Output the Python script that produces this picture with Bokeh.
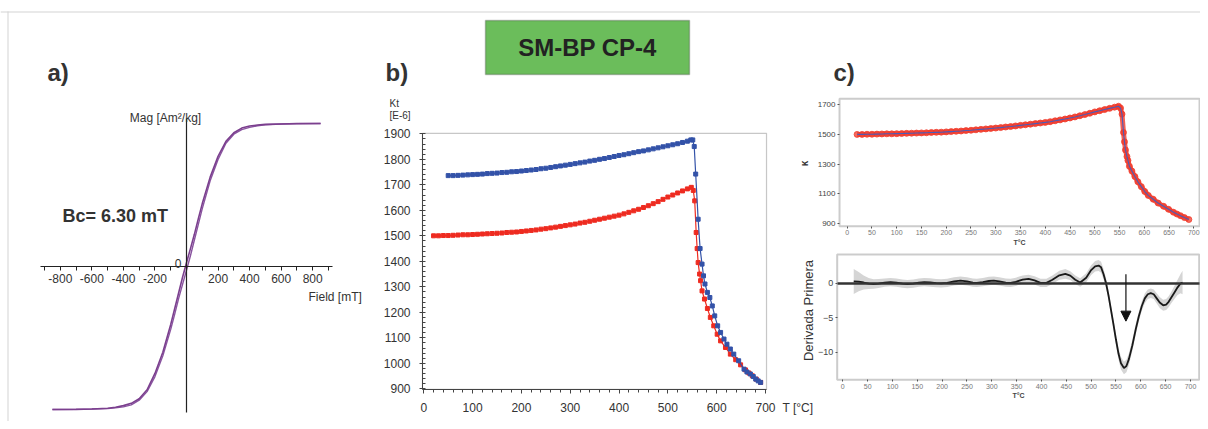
import math
from bokeh.plotting import figure
from bokeh.models import (Range1d, FixedTicker, SingleIntervalTicker, LinearAxis, Label,
                          BoxAnnotation, Arrow, NormalHead, PrintfTickFormatter)
from bokeh.embed import file_html
from bokeh.resources import INLINE

FONT = "Liberation Sans"

# ---------------- data ----------------
# panel a) hysteresis loop (normalised magnetisation)
field_mT = [-850, -700, -600, -500, -450, -400, -350, -300, -250, -200, -150, -100, -75, -50, -25, 0,
            25, 50, 75, 100, 150, 200, 250, 300, 350, 400, 450, 500, 600, 700, 850]
mag_desc = [-1.0, -0.999, -0.997, -0.991, -0.984, -0.973, -0.957, -0.925, -0.862, -0.748, -0.600, -0.405,
            -0.295, -0.185, -0.075, 0.026, 0.125, 0.225, 0.335, 0.440, 0.625, 0.770, 0.875, 0.935,
            0.968, 0.982, 0.989, 0.994, 0.997, 0.999, 1.0]
mag_asc = [-1.0, -0.999, -0.997, -0.994, -0.989, -0.982, -0.968, -0.935, -0.875, -0.770, -0.625, -0.440,
           -0.335, -0.225, -0.125, -0.026, 0.075, 0.185, 0.295, 0.405, 0.600, 0.748, 0.862, 0.925,
           0.957, 0.973, 0.984, 0.991, 0.997, 0.999, 1.0]
a_major_ticks = [-800, -600, -400, -200, 200, 400, 600, 800]
a_minor_ticks = [-900, -700, -500, -300, -100, 0, 100, 300, 500, 700, 900]

# panel b) susceptibility vs temperature
t_heat = [20, 30, 40, 50, 60, 70, 80, 90, 100, 110, 120, 130, 140, 150, 160, 170, 180, 190, 200, 210,
          220, 230, 240, 250, 260, 270, 280, 290, 300, 310, 320, 330, 340, 350, 360, 370, 380, 390,
          400, 410, 420, 430, 440, 450, 460, 470, 480, 490, 500, 510, 520, 530, 540,
          548, 552, 555, 558, 560, 562, 565, 567, 570, 575,
          581, 587, 594, 601, 608, 618, 628, 639, 649, 659, 666, 673, 681, 690]
k_heat = [1500, 1500, 1501, 1501, 1502, 1503, 1504, 1504, 1505, 1506,
          1507, 1508, 1509, 1510, 1511, 1513, 1514, 1515, 1517, 1519,
          1521, 1523, 1526, 1528, 1531, 1534, 1537, 1540, 1543, 1546,
          1550, 1553, 1557, 1561, 1565, 1569, 1573, 1577, 1581, 1586,
          1592, 1598, 1604, 1611, 1618, 1626, 1634, 1643, 1652, 1660,
          1668, 1676, 1684,
          1690, 1678, 1637, 1513, 1450, 1395, 1350, 1324, 1284, 1252,
          1215, 1180, 1147, 1114, 1088, 1062, 1036, 1014, 994, 974, 962, 951, 938, 925]
t_cool = [50, 60, 70, 80, 90, 100, 110, 120, 130, 140, 150, 160, 170, 180, 190, 200, 210, 220, 230, 240,
          250, 260, 270, 280, 290, 300, 310, 320, 330, 340, 350, 360, 370, 380, 390, 400, 410, 420,
          430, 440, 450, 460, 470, 480, 490, 500, 510, 520, 530, 540,
          547, 551, 554, 557, 562, 566, 570, 573, 576, 581, 586, 591, 596, 602, 608, 615, 621, 628,
          635, 645, 656, 662, 669, 675, 680, 685, 690]
k_cool = [1736, 1736, 1737, 1738, 1739, 1740, 1741, 1742, 1744, 1745,
          1746, 1748, 1749, 1751, 1752, 1754, 1756, 1758, 1760, 1763,
          1765, 1768, 1771, 1774, 1777, 1780, 1783, 1786, 1789, 1793,
          1796, 1800, 1803, 1807, 1811, 1815, 1818, 1822, 1826, 1830,
          1833, 1837, 1841, 1845, 1849, 1853, 1857, 1861, 1866, 1871,
          1876, 1876, 1850, 1742, 1565, 1450, 1389, 1343, 1311, 1278, 1258, 1225, 1186, 1147,
          1121, 1095, 1075, 1056, 1036, 1010, 977, 966, 958, 948, 938, 931, 925]

# panel c) kappa and first derivative
c_x_ticks = [0, 50, 100, 150, 200, 250, 300, 350, 400, 450, 500, 550, 600, 650, 700]
c1_y_ticks = [900, 1100, 1300, 1500, 1700]
c2_y_ticks = [-10, -5, 0]
t_deriv = [22, 32, 42, 52, 62, 72, 84, 96, 108, 120, 130, 142, 153, 164, 176, 188, 198, 210, 224, 237,
           250, 262, 270, 282, 294, 304, 315, 328, 338, 348, 362, 374, 386, 398, 410, 422, 436, 448,
           458, 468, 478, 490, 500, 508, 515, 520, 525, 530, 535, 540, 545, 550, 555, 560, 566, 571,
           576, 583, 590, 596, 602, 608, 614, 620, 626, 632, 638, 645, 651, 656, 662, 668, 674, 680, 684]
d_deriv = [0.25, 0.22, 0.10, -0.05, -0.12, -0.05, 0.08, 0.15, 0.08, -0.05,
           -0.12, -0.05, 0.08, 0.15, 0.10, 0.0, -0.02, 0.05, 0.25, 0.38,
           0.25, 0.08, 0.04, 0.15, 0.32, 0.38, 0.25, 0.08, 0.05, 0.20,
           0.52, 0.63, 0.40, 0.05, 0.05, 0.50, 1.15, 1.35, 1.10, 0.50,
           0.10, 0.80, 1.90, 2.45, 2.56, 2.30, 1.30, 0.0, -1.8, -3.9,
           -6.0, -8.2, -10.2, -11.6, -12.3, -12.0, -11.0, -9.0, -6.6, -4.8,
           -3.3, -2.2, -1.6, -1.45, -1.6, -2.2, -2.8, -3.2, -3.1, -2.7,
           -2.0, -1.3, -0.6, -0.05, 0.1]
w_deriv = [1.8, 1.4, 1.0, 0.8, 0.7, 0.65, 0.6, 0.6, 0.6, 0.6,
           0.6, 0.6, 0.6, 0.6, 0.6, 0.6, 0.6, 0.6, 0.6, 0.6,
           0.6, 0.6, 0.6, 0.6, 0.6, 0.6, 0.6, 0.6, 0.6, 0.6,
           0.6, 0.6, 0.6, 0.6, 0.6, 0.6, 0.65, 0.7, 0.65, 0.6,
           0.6, 0.65, 0.7, 0.75, 0.8, 0.8, 0.75, 0.7, 0.7, 0.7,
           0.75, 0.8, 0.85, 0.9, 0.9, 0.9, 0.85, 0.8, 0.75, 0.7,
           0.7, 0.7, 0.7, 0.7, 0.7, 0.75, 0.8, 0.8, 0.8, 0.8,
           0.85, 0.95, 1.1, 1.4, 1.7]
arrow_T = 570
arrow_top, arrow_tip = 1.3, -5.5

d_low = [d - w for d, w in zip(d_deriv, w_deriv)]
d_high = [d + w for d, w in zip(d_deriv, w_deriv)]

# ---------------- canvas ----------------
W, H = 1200, 421
p = figure(width=W, height=H, x_range=Range1d(0, W), y_range=Range1d(H, 0),
           x_axis_type=None, y_axis_type=None, toolbar_location=None, output_backend="svg",
           min_border=0, outline_line_color=None, background_fill_color="white",
           border_fill_color="white")


def x_range_for(v0, p0, v1, p1):
    k = (v1 - v0) / (p1 - p0)
    return Range1d(start=v0 - p0 * k, end=v0 + (W - p0) * k)


def y_range_for(v0, p0, v1, p1):
    k = (v1 - v0) / (p1 - p0)
    return Range1d(start=v0 + (H - p0) * k, end=v0 - p0 * k)


# panel placements (pixel positions of reference values)
p.extra_x_ranges = {
    "ax": x_range_for(0, 186.0, 800, 312.2),
    "bx": x_range_for(0, 423.3, 700, 765.0),
    "c1x": x_range_for(0, 846.7, 700, 1193.3),
    "c2x": x_range_for(0, 842.3, 700, 1190.0),
}
p.extra_y_ranges = {
    "ay": y_range_for(0, 266.0, 1, 123.0),
    "by": y_range_for(1900, 133.3, 900, 388.3),
    "c1y": y_range_for(1700, 104.3, 900, 222.7),
    "c2y": y_range_for(0, 282.7, -10, 351.7),
}
A_XB, A_YB = (-925, 925), (-1.021, 1.035)
B_XB, B_YB = (-2.7, 702.1), (898, 1902)
C1_XB, C1_YB = (-15.5, 711.6), (880, 1741)
C2_XB, C2_YB = (-11.3, 717.5), (-14.0, 4.16)


def txt(x, y, text, size, align="left", baseline="middle", bold=False, color="#333333", angle=0.0):
    p.add_layout(Label(x=x, y=y, text=text, text_font=FONT, text_font_size=size,
                       text_font_style="bold" if bold else "normal", text_color=color,
                       text_align=align, text_baseline=baseline, angle=angle))


# ---------------- page decorations ----------------
p.add_layout(BoxAnnotation(left=0, right=W, top=11, bottom=12, fill_color="#d4d4d4", fill_alpha=1,
                           line_color=None))
p.add_layout(BoxAnnotation(left=7, right=8, top=11, bottom=H, fill_color="#d4d4d4", fill_alpha=1,
                           line_color=None))
p.add_layout(BoxAnnotation(left=485, right=689, top=20, bottom=74, fill_color="#6bbd5b",
                           fill_alpha=1.0, line_color="#3c3c3c", line_width=1.5))
txt(587, 47, "SM-BP CP-4", "24px", align="center", bold=True, color="#222222")
txt(47, 72, "a)", "24px", bold=True)
txt(385, 72, "b)", "24px", bold=True)
txt(833, 72, "c)", "24px", bold=True)

# ---------------- panel a ----------------
xa = LinearAxis(x_range_name="ax", y_range_name="ay", fixed_location=0, bounds=A_XB,
                ticker=FixedTicker(ticks=a_major_ticks, minor_ticks=a_minor_ticks),
                formatter=PrintfTickFormatter(format="%d"),
                axis_line_color="#222222", axis_line_width=1.2,
                major_tick_line_color="#222222", minor_tick_line_color="#222222",
                major_tick_out=4, major_tick_in=0, minor_tick_out=4, minor_tick_in=0,
                major_label_standoff=3, major_label_text_font=FONT,
                major_label_text_font_size="12px", major_label_text_color="#333333")
p.add_layout(xa, "below")
ya = LinearAxis(x_range_name="ax", y_range_name="ay", fixed_location=0, bounds=A_YB,
                ticker=FixedTicker(ticks=[]), axis_line_color="#222222", axis_line_width=1.2,
                major_tick_line_color=None, minor_tick_line_color=None,
                major_label_text_font_size="0px")
p.add_layout(ya, "left")
p.line(field_mT, mag_asc, line_color="#8a55a0", line_width=1.4, x_range_name="ax", y_range_name="ay")
p.line(field_mT, mag_desc, line_color="#7b3f8e", line_width=1.6, x_range_name="ax", y_range_name="ay")
txt(165, 117, "Mag [Am²/kg]", "12px", align="center")
txt(308, 296, "Field [mT]", "12px")
txt(181, 263, "0", "12px", align="right", baseline="alphabetic")
txt(62, 215, "Bc= 6.30 mT", "18px", bold=True)

# ---------------- panel b ----------------
p.add_layout(BoxAnnotation(left=B_XB[0], right=B_XB[1], bottom=B_YB[0], top=B_YB[1],
                           x_range_name="bx", y_range_name="by", fill_color=None,
                           line_color="#444444", line_width=1.2))
bxa = LinearAxis(x_range_name="bx", y_range_name="by", fixed_location=B_YB[0], bounds=B_XB,
                 ticker=SingleIntervalTicker(interval=100, num_minor_ticks=5),
                 major_tick_out=4, major_tick_in=0, minor_tick_out=3, minor_tick_in=0,
                 major_label_standoff=10)
bya = LinearAxis(x_range_name="bx", y_range_name="by", fixed_location=B_XB[0], bounds=B_YB,
                 ticker=SingleIntervalTicker(interval=100, num_minor_ticks=5),
                 major_tick_out=3, major_tick_in=2, minor_tick_out=0, minor_tick_in=3,
                 major_label_standoff=9)
for ax in (bxa, bya):
    ax.axis_line_color = "#444444"
    ax.major_tick_line_color = "#444444"
    ax.minor_tick_line_color = "#444444"
    ax.major_label_text_font = FONT
    ax.major_label_text_font_size = "12px"
    ax.major_label_text_color = "#333333"
p.add_layout(bxa, "below")
p.add_layout(bya, "left")
p.line(t_heat, k_heat, line_color="#ee2b20", line_width=1.2, x_range_name="bx", y_range_name="by")
p.scatter(t_heat, k_heat, marker="square", size=4, fill_color="#ee2b20", line_color="#ee2b20",
          x_range_name="bx", y_range_name="by")
p.line(t_cool, k_cool, line_color="#3352a8", line_width=1.2, x_range_name="bx", y_range_name="by")
p.scatter(t_cool, k_cool, marker="square", size=4, fill_color="#3352a8", line_color="#3352a8",
          x_range_name="bx", y_range_name="by")
txt(389, 103, "Kt", "10px")
txt(389, 115, "[E-6]", "10px")
txt(782, 407, "T [°C]", "12px")


# ---------------- panel c ----------------
def c_axes(xr, yr, xb, yb, yticks, ylab_size):
    p.add_layout(BoxAnnotation(left=xb[0], right=xb[1], bottom=yb[0], top=yb[1],
                               x_range_name=xr, y_range_name=yr, fill_color=None,
                               line_color="#555555", line_width=2))
    xax = LinearAxis(x_range_name=xr, y_range_name=yr, fixed_location=yb[0], bounds=xb,
                     ticker=FixedTicker(ticks=c_x_ticks), axis_label="T°C",
                     axis_label_text_font=FONT, axis_label_text_font_size="7px",
                     axis_label_text_font_style="bold", axis_label_text_color="#444444",
                     axis_label_standoff=0, major_label_text_font_size="7px",
                     major_label_text_color="#777777")
    yax = LinearAxis(x_range_name=xr, y_range_name=yr, fixed_location=xb[0], bounds=yb,
                     ticker=FixedTicker(ticks=yticks), major_label_text_font_size=ylab_size,
                     major_label_text_color="#444444")
    for ax in (xax, yax):
        ax.axis_line_color = None
        ax.major_tick_line_color = "#555555"
        ax.minor_tick_line_color = None
        ax.major_tick_out = 2
        ax.major_tick_in = 0
        ax.major_label_standoff = 2
        ax.major_label_text_font = FONT
    p.add_layout(xax, "below")
    p.add_layout(yax, "left")


c_axes("c1x", "c1y", C1_XB, C1_YB, c1_y_ticks, "8px")
p.line(t_heat, k_heat, line_color="#f03a2a", line_width=5, line_alpha=0.8,
       x_range_name="c1x", y_range_name="c1y")
p.scatter(t_heat, k_heat, marker="circle", size=6, fill_color="#f03a2a", line_color="#f03a2a",
          alpha=0.75, x_range_name="c1x", y_range_name="c1y")
p.line(t_heat, k_heat, line_color="#4a5cb8", line_width=1.1, x_range_name="c1x", y_range_name="c1y")
txt(804, 163, "κ", "10px", align="center", bold=True, angle=math.pi / 2)

c_axes("c2x", "c2y", C2_XB, C2_YB, c2_y_ticks, "9px")
p.varea(x=t_deriv, y1=d_low, y2=d_high, fill_color="#d5d5d5", x_range_name="c2x", y_range_name="c2y")
p.line(t_deriv, d_deriv, line_color="#1a1a1a", line_width=1.8, x_range_name="c2x", y_range_name="c2y")
zero_line = LinearAxis(x_range_name="c2x", y_range_name="c2y", fixed_location=0, bounds=C2_XB,
                       ticker=FixedTicker(ticks=[]), axis_line_color="#333333", axis_line_width=2.5,
                       major_tick_line_color=None, minor_tick_line_color=None,
                       major_label_text_font_size="0px")
p.add_layout(zero_line, "below")
p.add_layout(Arrow(end=NormalHead(size=10, fill_color="#111111", line_color="#111111"),
                   x_start=arrow_T, y_start=arrow_top, x_end=arrow_T, y_end=arrow_tip,
                   x_range_name="c2x", y_range_name="c2y",
                   line_color="#111111", line_width=1.2))
txt(808, 310, "Derivada Primera", "13px", align="center", angle=math.pi / 2)

open("out.html", "w").write(file_html(p, INLINE))
